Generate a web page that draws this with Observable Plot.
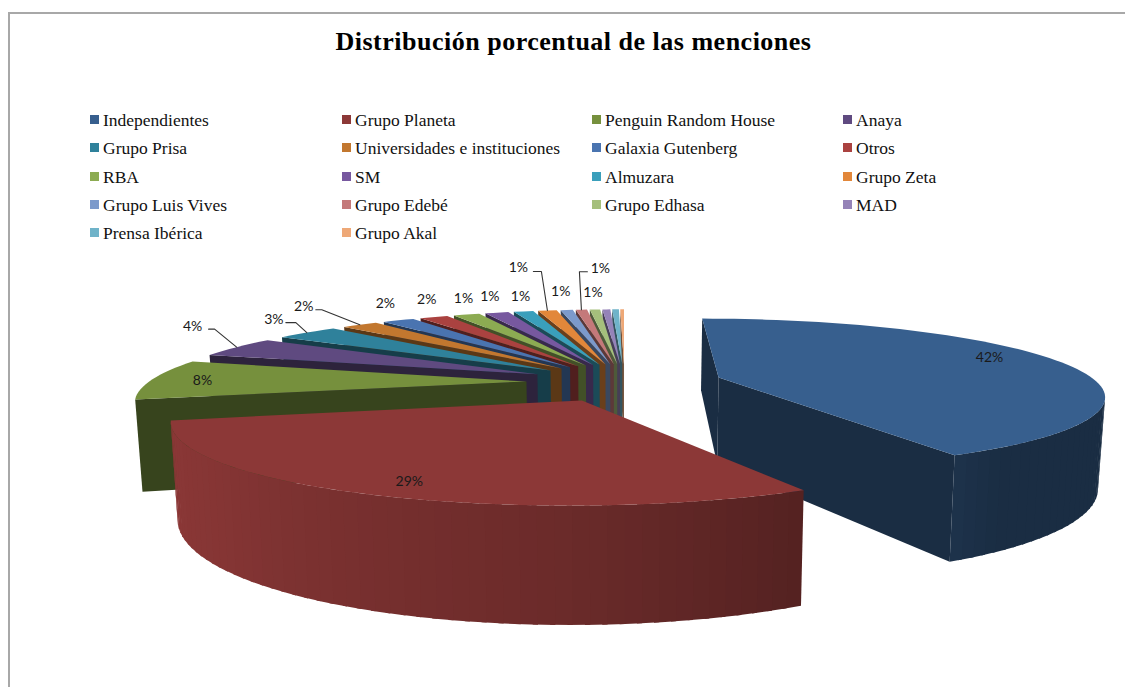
<!DOCTYPE html>
<html><head><meta charset="utf-8">
<script src="https://cdn.jsdelivr.net/npm/d3@7"></script>
<script src="https://cdn.jsdelivr.net/npm/@observablehq/plot@0.6"></script>
<style>
html,body{margin:0;padding:0;background:#fff;overflow:hidden}
#page{position:relative;width:1125px;height:687px;overflow:hidden}
#frame{position:absolute;left:8px;top:12px;right:-4px;bottom:-4px;border:2px solid #a8a8a8}
#title{position:absolute;left:0;width:1147px;top:27px;text-align:center;font:bold 26px "Liberation Serif",serif;letter-spacing:0.5px;color:#000}
#legend{position:absolute;left:0;top:0;width:1125px;height:255px;font:17.5px "Liberation Serif",serif;color:#111}
.item{position:absolute;white-space:nowrap;line-height:18px}
.sw{position:absolute;left:-13px;top:4px;width:9px;height:9px}
#chart{position:absolute;left:0;top:255px}
</style></head><body>
<div id="page"><div id="frame"></div><div id="legend"></div><div id="title">Distribución porcentual de las menciones</div><div id="chart"></div></div>
<script>
const categories = ["Independientes","Grupo Planeta","Penguin Random House","Anaya","Grupo Prisa","Universidades e instituciones","Galaxia Gutenberg","Otros","RBA","SM","Almuzara","Grupo Zeta","Grupo Luis Vives","Grupo Edebé","Grupo Edhasa","MAD","Prensa Ibérica","Grupo Akal"];
const shares = [42.25,29,8.45,4.4,3.3,1.9,1.7,1.5,1.4,1.25,1.05,1,0.65,0.6,0.55,0.42,0.36,0.2];
const colors = ["#375f8e","#8c3837","#76903d","#5f4a80","#2f819b","#c2772f","#4a74b0","#aa4240","#8cab52","#77589f","#3a9fbb","#e2873a","#7c9acb","#c4797a","#a5bf7c","#9583b8","#6fb3c9","#eea877"];

// projection of the exploded pie
const P = {cx:624, cy:359, rx:353, ry:64, k:0.2, shift:-0.33, explode:0.26, height:82, taper:0.985};
// wall brightness against the angle round the pie
const light = d3.scaleLinear([0,144,152,152.2,180,205,230,256,360],[0.47,0.47,0.53,0.6,0.76,0.85,0.95,1,1]);
// label offsets in pixels from the slice's outer-arc midpoint, with optional leader knees
const labelLayout = [
 {dx:-69,dy:-4},{dx:45,dy:-12},{dx:50,dy:1},
 {dx:-44,dy:-21,knee:[[-28,-18],[-22,-18]]},
 {dx:-33,dy:-13,knee:[[-21,-10],[-11,-10]]},
 {dx:-56,dy:-18,knee:[[-44,-15],[-38,-15]]},
 {dx:-13,dy:-17},{dx:-7,dy:-18},{dx:-3,dy:-16},{dx:-7,dy:-16},{dx:-3,dy:-15},
 {dx:-29,dy:-43,knee:[[-14,-39],[-6,-39]]},
 {dx:-6,dy:-18},
 {dx:19,dy:-41,knee:[[6,-38],[-2,-38]]},
 {dx:-2,dy:-17}
];

const rad = d => d*Math.PI/180;
const total = d3.sum(shares);
const arcs = []; let acc = 0;
shares.forEach((v,i)=>{const a0=acc/total*360; acc+=v; arcs.push({i,a0,a1:acc/total*360});});

function project(r,th,phi,low){
  const X=r*Math.sin(rad(th))+P.explode*Math.sin(rad(phi));
  const Y=r*Math.cos(rad(th))+P.explode*Math.cos(rad(phi))+P.shift;
  const s=1/(1+P.k*Y);
  let x=P.rx*X*s, y=-P.ry*Y*s;
  if(low){x*=P.taper; y+=P.height*s;}
  return [P.cx+x,P.cy+y];
}
const polys=[]; let pid=0;
function addPoly(pts,fill){const id=pid++; [...pts,pts[0]].forEach(p=>polys.push({id,x:p[0],y:p[1],fill}));}
function shade(c,f){const q=d3.rgb(c);return d3.rgb(q.r*f,q.g*f,q.b*f).formatHex();}

const order=[...d3.range(arcs.length-1,1,-1),0,1];
for(const i of order){
  const {a0,a1}=arcs[i], phi=(a0+a1)/2, col=colors[i];
  const n=Math.max(2,Math.ceil((a1-a0)/2));
  const rim=d3.range(n+1).map(j=>a0+(a1-a0)*j/n);
  const darkWall=shade(col,i===1?0.6:0.47);
  const wall=(ea,eb,fill,ba)=>{
    const a=project(ea[0],ea[1],phi,false), b=project(eb[0],eb[1],phi,false);
    if(b[0]<a[0]) addPoly([a,ba||b,project(...(ba?[1,Math.min(a1,eb[1]+0.6)]:eb),phi,true),project(ea[0],ea[1],phi,true)],fill);
  };
  wall([0,0],[1,a0],darkWall);
  wall([1,a1],[0,0],darkWall);
  for(let j=0;j<n;j++){
    const over=project(1,Math.min(a1,rim[j+1]+0.6),phi,false);
    wall([1,rim[j]],[1,rim[j+1]],shade(col,light((rim[j]+rim[j+1])/2)),over);
  }
  const top=[project(0,0,phi,false)];
  rim.forEach(t=>top.push(project(1,t,phi,false)));
  addPoly(top,col);
}

const labels=[], leaders=[]; let lid=0;
labelLayout.forEach((l,i)=>{
  const {a0,a1}=arcs[i], phi=(a0+a1)/2, m=project(1,phi,phi,false);
  const text=Math.round(shares[i])+"%";
  labels.push({x:m[0]+l.dx,y:m[1]+l.dy,text});
  if(l.knee){
    const id=lid++;
    [...l.knee.map(k=>[m[0]+k[0],m[1]+k[1]]),m].forEach(p=>leaders.push({id,x:p[0],y:p[1]}));
  }
});

const W=1125,H=432,Y0=255;
const svg=Plot.plot({
  width:W,height:H,margin:0,
  x:{domain:[0,W],range:[0,W],axis:null},
  y:{domain:[Y0,Y0+H],range:[0,H],axis:null},
  color:{type:"identity"},
  style:{background:"transparent"},
  marks:[
    Plot.line(polys,{x:"x",y:"y",z:"id",fill:"fill",stroke:"none",curve:"linear"}),
    Plot.line(leaders,{x:"x",y:"y",z:"id",stroke:"#333",strokeWidth:1.1}),
    Plot.text(labels,{x:"x",y:"y",text:"text",fontFamily:"Lato",fontSize:14,fill:"#1a1a1a"})
  ]
});
document.getElementById("chart").append(svg);

const legend=document.getElementById("legend");
const colX=[103,355,605,856], rowY=[111,139,168,196,224];
categories.forEach((c,i)=>{
  const d=document.createElement("div"); d.className="item";
  d.style.left=colX[i%4]+"px"; d.style.top=rowY[Math.floor(i/4)]+"px";
  d.textContent=c;
  const s=document.createElement("span"); s.className="sw"; s.style.background=colors[i]; d.append(s);
  legend.append(d);
});
</script></body></html>
